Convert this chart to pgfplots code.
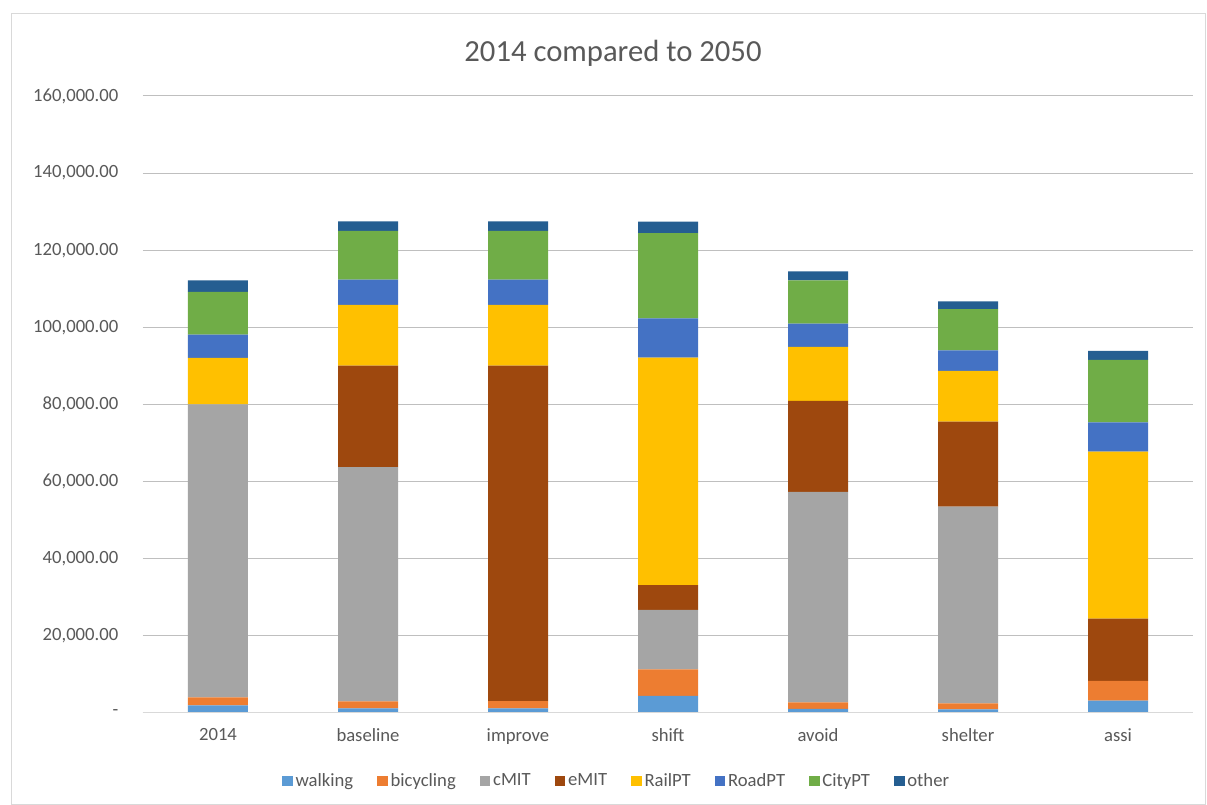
\documentclass[border=0pt]{standalone}
\usepackage{pgfplots}
\pgfplotsset{compat=1.18}
\usepackage{pgfplotstable}
\usepackage{fontspec}
\setmainfont{Carlito}
\definecolor{txt}{HTML}{595959}
\definecolor{grid}{HTML}{D9D9D9}
\definecolor{cwalk}{HTML}{5B9BD5}
\definecolor{cbike}{HTML}{ED7D31}
\definecolor{ccmit}{HTML}{A5A5A5}
\definecolor{cemit}{HTML}{9E480E}
\definecolor{crail}{HTML}{FFC000}
\definecolor{croad}{HTML}{4472C4}
\definecolor{ccity}{HTML}{70AD47}
\definecolor{cother}{HTML}{255E91}

\pgfplotstableread{
x walking bicycling cMIT eMIT RailPT RoadPT CityPT other
0 2000 2070 75980 0 12010 6040 11080 3020
1 1200 1830 60760 26280 15730 6570 12630 2500
2 1200 1900 0 86970 15730 6570 12630 2500
3 4410 6920 15380 6480 58950 10210 22120 2930
4 1040 1730 54540 23600 14000 6050 11240 2330
5 950 1560 50990 22040 13150 5360 10710 2000
6 3200 5100 0 16160 43310 7610 16160 2340
}\datatable

\begin{document}
\begin{tikzpicture}
% canvas: 1207x805 px at 0.75pt/px, axis lower-left at px (143,713)
\path[fill=white] (-107.25pt,-69pt) rectangle (798pt,534.75pt);
\draw[grid, line width=0.75pt] (-98.25pt,-68.6pt) rectangle (797.2pt,524.25pt);
\node[text=txt, font=\fontsize{23}{27}\selectfont] at (352.5pt,494.5pt) {2014 compared to 2050};
\begin{axis}[
  at={(0pt,0pt)}, anchor=south west,
  scale only axis,
  width=787.5pt, height=462.75pt,
  ybar stacked,
  bar width=45pt,
  xmin=-0.5, xmax=6.5,
  ymin=0, ymax=160000,
  xtick=data,
  xticklabels={2014,baseline,improve,shift,avoid,shelter,assi},
  ytick={0,20000,40000,60000,80000,100000,120000,140000,160000},
  yticklabels={{-\hspace{15pt}},{20,000.00},{40,000.00},{60,000.00},{80,000.00},{100,000.00},{120,000.00},{140,000.00},{160,000.00}},
  scaled y ticks=false,
  axis line style={draw=none},
  xmajorgrids=false,
  ymajorgrids=true,
  grid style={grid, line width=0.75pt},
  major tick length=0pt,
  tick label style={text=txt, font=\fontsize{14}{16}\selectfont},
  yticklabel style={xshift=-15pt},
  xticklabel style={yshift=-8pt},
  /pgf/number format/assume math mode=true,
  legend style={at={(0.4514,-0.110)}, anchor=center, draw=none, fill=none,
    legend columns=-1, font=\fontsize{14}{16}\selectfont, text=txt,
    /tikz/every even column/.append style={column sep=16pt}},
  legend image code/.code={\fill[#1] (0pt,-4pt) rectangle (8pt,4pt);},
  every axis plot/.append style={draw=none},
  clip=false,
]
\draw[grid, line width=0.75pt] (axis cs:-0.5,0) -- (axis cs:6.5,0);
\addplot[fill=cwalk] table[x=x,y=walking] {\datatable};
\addlegendentry{walking}
\addplot[fill=cbike] table[x=x,y=bicycling] {\datatable};
\addlegendentry{bicycling}
\addplot[fill=ccmit] table[x=x,y=cMIT] {\datatable};
\addlegendentry{cMIT}
\addplot[fill=cemit] table[x=x,y=eMIT] {\datatable};
\addlegendentry{eMIT}
\addplot[fill=crail] table[x=x,y=RailPT] {\datatable};
\addlegendentry{RailPT}
\addplot[fill=croad] table[x=x,y=RoadPT] {\datatable};
\addlegendentry{RoadPT}
\addplot[fill=ccity] table[x=x,y=CityPT] {\datatable};
\addlegendentry{CityPT}
\addplot[fill=cother] table[x=x,y=other] {\datatable};
\addlegendentry{other}
\end{axis}
\end{tikzpicture}
\end{document}
